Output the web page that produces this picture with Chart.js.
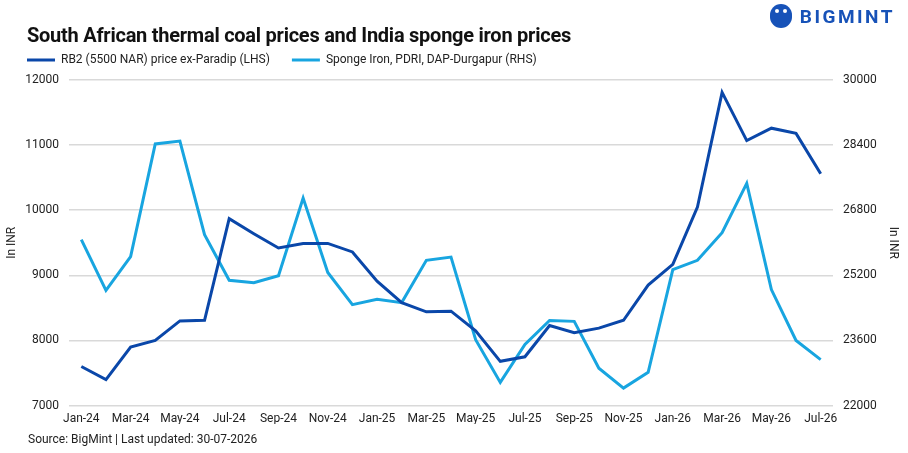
<!DOCTYPE html>
<html>
<head>
<meta charset="utf-8">
<script src="https://cdn.jsdelivr.net/npm/chart.js@4.4.1/dist/chart.umd.min.js"></script>
<style>
  html, body { margin: 0; padding: 0; background: #fff; }
  #wrap { position: relative; width: 908px; height: 453px; font-family: Roboto, "Liberation Sans", sans-serif; }
  #title { position: absolute; left: 27px; top: 23px; font-size: 20px; font-weight: 700; color: #111; letter-spacing: -0.25px; }
  #logo { position: absolute; right: 13px; top: 4px; font-size: 19px; font-weight: 700; color: #1752b8; letter-spacing: 2.5px; display: flex; align-items: center; }
  #logo .ic { width: 22px; height: 24px; border-radius: 11px; background: #1752b8; margin-right: 8px; position: relative; }
  #logo .ic:before { content: ""; position: absolute; left: 5px; top: 5px; width: 4px; height: 4px; border-radius: 2px; background: #fff; }
  #logo .ic:after { content: ""; position: absolute; left: 13px; top: 5px; width: 4px; height: 4px; border-radius: 2px; background: #fff; }
  #source { position: absolute; left: 28px; top: 432px; font-size: 12px; color: #222; }
  #c { position: absolute; left: 0; top: 0; }
</style>
</head>
<body>
<div id="wrap">
  <canvas id="c" width="908" height="453"></canvas>
  <div id="title">South African thermal coal prices and India sponge iron prices</div>
  <div id="logo"><span class="ic"></span>BIGMINT</div>
  <div id="source">Source: BigMint | Last updated: 30-07-2026</div>
</div>
<script>
// months Jan-24 .. Jul-26
var months = ['Jan-24','Feb-24','Mar-24','Apr-24','May-24','Jun-24','Jul-24','Aug-24','Sep-24','Oct-24','Nov-24','Dec-24',
              'Jan-25','Feb-25','Mar-25','Apr-25','May-25','Jun-25','Jul-25','Aug-25','Sep-25','Oct-25','Nov-25','Dec-25',
              'Jan-26','Feb-26','Mar-26','Apr-26','May-26','Jun-26','Jul-26'];

// RB2 (5500 NAR) price ex-Paradip, INR (left axis)
var rb2Paradip = [7600, 7400, 7900, 8000, 8300, 8310, 9870, 9640, 9420, 9490, 9490, 9360,
                  8910, 8580, 8440, 8450, 8150, 7680, 7750, 8230, 8120, 8190, 8310, 8850,
                  9170, 10050, 11810, 11070, 11260, 11180, 10560];

// Sponge iron PDRI DAP-Durgapur, INR (right axis)
var spongeIron = [26080, 24830, 25660, 28430, 28500, 26200, 25080, 25020, 25190, 27100, 25270, 24480,
                  24610, 24530, 25570, 25650, 23620, 22570, 23500, 24090, 24070, 22920, 22430, 22820,
                  25340, 25570, 26250, 27460, 24850, 23600, 23130];

var leftTicks = [7000, 8000, 9000, 10000, 11000, 12000];
var rightTicks = [22000, 23600, 25200, 26800, 28400, 30000];

var fontFam = 'Roboto, "Liberation Sans", sans-serif';
var tickFont = { family: fontFam, size: 12 };

// legend a little taller so the plot starts lower
var legendGap = {
    id: 'legendGap',
    beforeInit: function (chart) {
        var origFit = chart.legend.fit;
        chart.legend.fit = function () {
            origFit.bind(chart.legend)();
            this.height += 4;
        };
    }
};

new Chart(document.getElementById('c').getContext('2d'), {
    type: 'line',
    data: {
        labels: months,
        datasets: [
            {
                label: 'RB2 (5500 NAR) price ex-Paradip (LHS)',
                data: rb2Paradip,
                borderColor: '#0a47a9',
                backgroundColor: '#0a47a9',
                borderWidth: 3,
                pointRadius: 0,
                tension: 0,
                yAxisID: 'y'
            },
            {
                label: 'Sponge Iron, PDRI, DAP-Durgapur (RHS)',
                data: spongeIron,
                borderColor: '#18a5e0',
                backgroundColor: '#18a5e0',
                borderWidth: 3,
                pointRadius: 0,
                tension: 0,
                yAxisID: 'y1'
            }
        ]
    },
    options: {
        responsive: false,
        animation: false,
        layout: { padding: { left: 5, right: 8, top: 32, bottom: 29 } },
        plugins: {
            legend: {
                position: 'top',
                align: 'start',
                labels: {
                    usePointStyle: true,
                    pointStyle: 'line',
                    pointStyleWidth: 28,
                    boxHeight: 3,
                    color: '#222',
                    font: { family: fontFam, size: 12 },
                    padding: 22
                }
            },
            tooltip: { enabled: false }
        },
        scales: {
            x: {
                offset: true,
                grid: { display: false },
                border: { display: false },
                ticks: {
                    autoSkip: false,
                    maxRotation: 0,
                    padding: -2,
                    color: '#222',
                    font: tickFont,
                    callback: function (val, i) { return i % 2 === 0 ? months[i] : ''; }
                }
            },
            y: {
                position: 'left',
                min: 7000,
                max: 12000,
                afterBuildTicks: function (axis) { axis.ticks = leftTicks.map(function (v) { return { value: v }; }); },
                afterFit: function (axis) { axis.width = 64; },
                grid: { color: '#d9d9d9', lineWidth: 1.5, drawTicks: false },
                border: { display: false },
                ticks: { color: '#222', font: tickFont, padding: 10, callback: function (v) { return String(v); } },
                title: { display: true, text: 'In INR', color: '#222', font: tickFont, padding: 0 }
            },
            y1: {
                position: 'right',
                min: 22000,
                max: 30000,
                afterBuildTicks: function (axis) { axis.ticks = rightTicks.map(function (v) { return { value: v }; }); },
                afterFit: function (axis) { axis.width = 67; },
                grid: { drawOnChartArea: false, drawTicks: false },
                border: { display: false },
                ticks: { color: '#222', font: tickFont, padding: 10, callback: function (v) { return String(v); } },
                title: { display: true, text: 'In INR', color: '#222', font: tickFont, padding: 0 }
            }
        }
    },
    plugins: [legendGap]
});
</script>
</body>
</html>
